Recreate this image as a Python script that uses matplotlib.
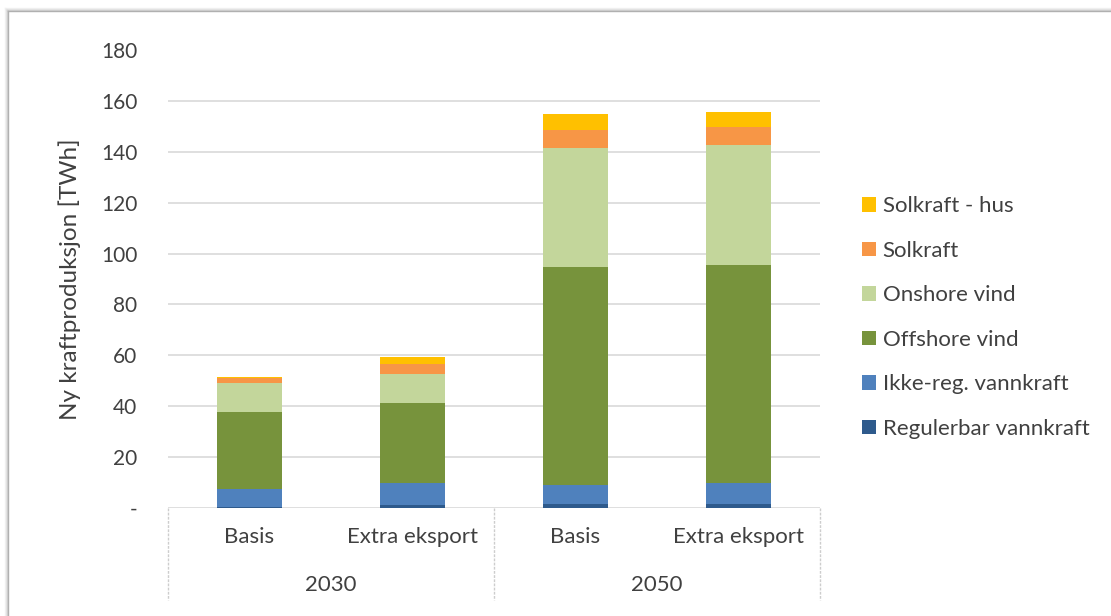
import matplotlib as mpl
mpl.use('Agg')

import matplotlib.pyplot as plt
import numpy as np
from matplotlib.lines import Line2D
from matplotlib.patches import Patch

# Scenarios (lower level) and years (upper level) on the category axis
scenarios = ["Basis", "Extra eksport", "Basis", "Extra eksport"]
years = ["2030", "2050"]

# Stacked series, bottom to top [TWh]
series_names = ["Regulerbar vannkraft", "Ikke-reg. vannkraft", "Offshore vind",
                "Onshore vind", "Solkraft", "Solkraft - hus"]
regulerbar = [0.1, 1.0, 1.2, 1.2]
ikke_reg = [7.2, 8.5, 7.7, 8.3]
offshore = [30.2, 31.5, 85.7, 86.1]
onshore = [11.4, 11.5, 47.1, 47.2]
solkraft = [2.0, 4.0, 7.0, 6.9]
solkraft_hus = [0.4, 2.8, 6.2, 6.1]

colors = ["#2E5A8C", "#4F81BD", "#77933C", "#C3D69B", "#F79646", "#FFC000"]
yticks = [0, 20, 40, 60, 80, 100, 120, 140, 160, 180]

plt.rcParams['font.family'] = ['Lato', 'DejaVu Sans']
text_color = '#404040'
grid_color = '#D9D9D9'

W, H = 1111, 616
fig = plt.figure(figsize=(W / 100, H / 100), dpi=100)
fig.patch.set_facecolor('white')

# plot area in pixels
left, right, y0, y180 = 168, 820, 507.5, 50.5
ax = fig.add_axes([left / W, (H - y0) / H, (right - left) / W, (y0 - y180) / H])

x = np.arange(len(scenarios))
bottom = np.zeros(len(scenarios))
data = [regulerbar, ikke_reg, offshore, onshore, solkraft, solkraft_hus]
handles = []
for name, vals, c in zip(series_names, data, colors):
    ax.bar(x, vals, width=0.4, bottom=bottom, color=c, edgecolor='none', zorder=3)
    bottom += np.array(vals)
    handles.append(Patch(facecolor=c, edgecolor='none', label=name))

ax.set_xlim(-0.5, 3.5)
ax.set_ylim(0, 180)
ax.set_yticks(yticks)
ax.set_yticklabels(['-'] + [str(v) for v in yticks[1:]])
ax.tick_params(axis='y', length=0, pad=22, labelsize=15, labelcolor=text_color)
ax.set_xticks([])
for s in ax.spines.values():
    s.set_visible(False)
ax.yaxis.grid(True, color=grid_color, linewidth=1.2)
ax.set_axisbelow(True)

# two-level category axis
trans = mpl.transforms.blended_transform_factory(ax.transData, ax.transAxes)
box_bottom = (y0 - 600) / (y0 - y180)
for xv in [-0.5, 1.5, 3.5]:
    ax.plot([xv, xv], [0, box_bottom], transform=trans, color='#CDCDCD',
            linewidth=1, linestyle=(0, (2, 1)), clip_on=False)
for xi, lab in zip(x, scenarios):
    ax.text(xi, (y0 - 537) / (y0 - y180), lab, transform=trans, ha='center',
            va='center', fontsize=16, color=text_color)
for gi, yr in enumerate(years):
    ax.text(gi * 2 + 0.5, (y0 - 585) / (y0 - y180), yr, transform=trans,
            ha='center', va='center', fontsize=16, color=text_color)

fig.text(70 / W, (H - 279) / H, "Ny kraftproduksjon [TWh]", rotation=90,
         ha='center', va='center', fontsize=17.5, color=text_color)

leg = fig.legend(handles[::-1], series_names[::-1], loc='center left',
                 bbox_to_anchor=(862 / W, (H - 317.5) / H), frameon=False,
                 fontsize=16, labelspacing=1.1, handlelength=0.63,
                 handleheight=0.63, handletextpad=0.3, borderpad=0,
                 borderaxespad=0)
for t in leg.get_texts():
    t.set_color(text_color)

# outer chart frame with soft shadow
for off, col in [(3, '#F2F2F2'), (2, '#E6E6E6'), (1, '#D4D4D4'), (0, '#B0B0B0')]:
    fx = (8 - off) / W
    fy = (H - 11 + off) / H
    fig.add_artist(Line2D([fx, 1], [fy, fy], color=col, linewidth=1))
    fig.add_artist(Line2D([fx, fx], [0, fy], color=col, linewidth=1))

fig.savefig('out.png', dpi=100)
